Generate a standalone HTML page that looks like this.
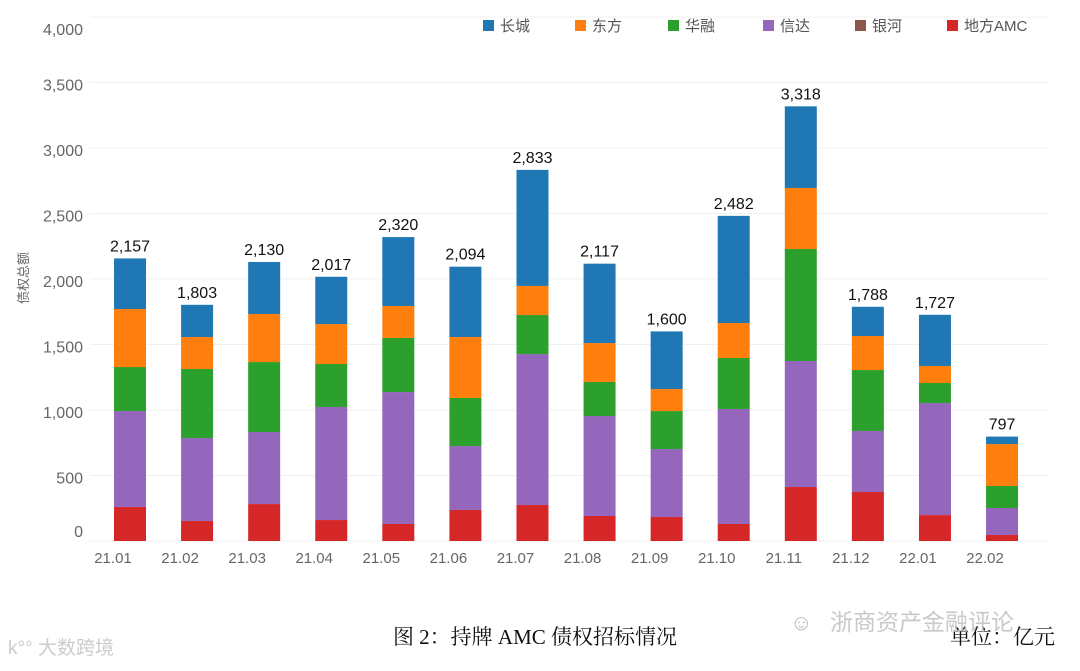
<!DOCTYPE html>
<html><head><meta charset="utf-8">
<style>
body{margin:0;background:#fff;width:1080px;height:666px;overflow:hidden;position:relative;font-family:"Liberation Sans","Noto Sans CJK SC",sans-serif}
svg text{font-family:"Liberation Sans","Noto Sans CJK SC",sans-serif}
</style></head>
<body>
<svg id="chart" width="1080" height="666" xmlns="http://www.w3.org/2000/svg"></svg>
<script>
const categories=["21.01","21.02","21.03","21.04","21.05","21.06","21.07","21.08","21.09","21.10","21.11","21.12","22.01","22.02"];
const localAMC=[260,153,282,160,130,237,275,191,183,130,412,374,198,46];
const yinhe=[0,0,0,0,0,0,0,0,0,0,0,0,0,0];
const xinda=[732,633,550,863,1007,488,1152,763,519,878,962,466,855,206];
const huarong=[336,527,534,328,413,367,298,260,290,389,855,465,153,168];
const dongfang=[443,244,367,305,244,465,222,297,168,267,466,260,130,320];
const changcheng=[386,246,397,361,526,537,886,606,440,818,623,223,391,57];
const totals=[2157,1803,2130,2017,2320,2094,2833,2117,1600,2482,3318,1788,1727,797];
const yTicks=[0,500,1000,1500,2000,2500,3000,3500,4000];
const seriesNames=["长城","东方","华融","信达","银河","地方AMC"];
const seriesColors=["#1f77b4","#ff7f0e","#2ca02c","#9467bd","#8c564b","#d62728"];

const svg=document.getElementById('chart');
const NS='http://www.w3.org/2000/svg';
function mk(tag,attrs,txt){const e=document.createElementNS(NS,tag);for(const k in attrs)e.setAttribute(k,attrs[k]);if(txt!==undefined)e.textContent=txt;svg.appendChild(e);return e;}
const y0=541,k=0.131;
function yScale(v){return y0-v*k;}
function xScale(i){return 130+i*67.08;}
const bw=32;

yTicks.forEach(t=>{
  const y=yScale(t);
  const g=mk('line',{x1:90,x2:1048,y1:y,y2:y,stroke:'#f0f0f0','stroke-width':1});
  
  
  const ly = t===0 ? 537 : (t===4000 ? 35 : y+8);
  const l=mk('text',{x:83,y:ly,'text-anchor':'end','font-size':16,fill:'#666'},t.toLocaleString('en-US'));
  
  
});

const yt=mk('text',{x:0,y:0,'font-size':13,fill:'#666','text-anchor':'middle',transform:'translate(28,278) rotate(-90)'},'债权总额');



const stack=[[localAMC,5],[yinhe,4],[xinda,3],[huarong,2],[dongfang,1],[changcheng,0]];
categories.forEach((c,i)=>{
  let base=0;
  const x=xScale(i)-bw/2;
  stack.forEach(([arr,ci])=>{
    const v=arr[i];
    if(v>0){
      const r=mk('rect',{x:x,y:yScale(base+v),width:bw,height:v*k,fill:seriesColors[ci]});
      
      
    }
    base+=v;
  });
  const tl=mk('text',{x:xScale(i),y:yScale(totals[i])-7,'text-anchor':'middle','font-size':16,fill:'#111'},totals[i].toLocaleString('en-US'));
  
  
  const xl=mk('text',{x:xScale(i)-17,y:563,'text-anchor':'middle','font-size':15,fill:'#666'},c);
  
  
});

const legX=[483,575,668,763,855,947];
seriesNames.forEach((n,i)=>{
  const r=mk('rect',{x:legX[i],y:20,width:11,height:11,fill:seriesColors[i]});
  
  
  const t=mk('text',{x:legX[i]+17,y:31,'font-size':15,fill:'#555'},n);
  
  
});

const cap=mk('text',{x:535,y:644,'text-anchor':'middle','font-size':21,fill:'#111',style:'font-family:"Liberation Serif","Noto Serif CJK SC",serif'},'图 2：持牌 AMC 债权招标情况');


const unit=mk('text',{x:1055,y:644,'text-anchor':'end','font-size':21,fill:'#111',style:'font-family:"Liberation Serif","Noto Serif CJK SC",serif'},'单位：亿元');


const wm=mk('text',{x:830,y:630,'font-size':23,fill:'#bbb','fill-opacity':0.8},'浙商资产金融评论');


const wmi=mk('text',{x:790,y:630,'font-size':22,fill:'#bbb'},'☺');


const wm2=mk('text',{x:8,y:654,'font-size':19,fill:'#ccc'},'k°° 大数跨境');


</script>
</body></html>
